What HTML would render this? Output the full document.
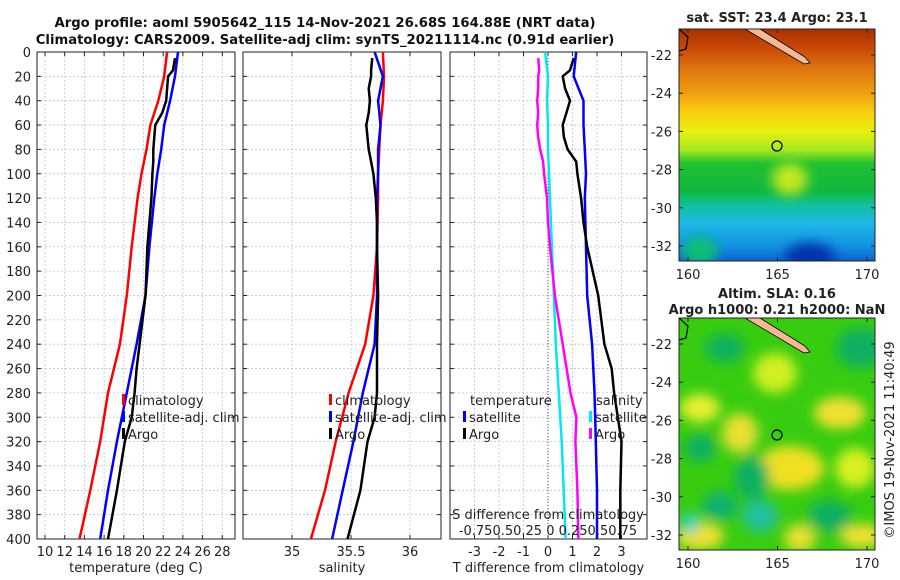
<!DOCTYPE html>
<html><head><meta charset="utf-8"><style>
body{margin:0;background:#fff}
svg{display:block;font-family:"DejaVu Sans","Liberation Sans",sans-serif}
</style></head><body>
<svg id="s" width="900" height="580" xmlns="http://www.w3.org/2000/svg">
<defs>
<linearGradient id="sst" x1="0" y1="0" x2="0" y2="1">
<stop offset="0" stop-color="#a83000"/><stop offset="0.08" stop-color="#c84808"/>
<stop offset="0.18" stop-color="#e07810"/><stop offset="0.28" stop-color="#f0a010"/>
<stop offset="0.36" stop-color="#f8d010"/><stop offset="0.44" stop-color="#e8f010"/>
<stop offset="0.52" stop-color="#a8e820"/><stop offset="0.58" stop-color="#20c030"/>
<stop offset="0.70" stop-color="#10b840"/><stop offset="0.76" stop-color="#10c0a0"/>
<stop offset="0.84" stop-color="#20b8e8"/><stop offset="0.94" stop-color="#1090e0"/>
<stop offset="1" stop-color="#1060d0"/>
</linearGradient>
<filter id="bl"><feGaussianBlur stdDeviation="6"/></filter>
<clipPath id="c2"><rect x="679" y="318" width="196" height="232"/></clipPath>
<clipPath id="c1"><rect x="679" y="29" width="196" height="232"/></clipPath>
</defs>
<g id="g"></g>
</svg>
<script>
// ---- data (depth in m) ----
const depths=[0,20,40,60,80,100,120,160,200,240,280,320,360,400];
const tClim=[22.4,22.1,21.5,20.7,20.3,19.8,19.4,18.8,18.3,17.6,16.4,15.6,14.6,13.5];
const tSat=[23.5,23.2,22.7,22.1,21.8,21.4,21.1,20.6,20.2,19.3,18.3,17.3,16.4,15.6];
const argoDepths=[5,15,20,30,40,50,60,70,80,90,100,120,140,160,200,240,260,280,300,320,360,400];
const tArgo=[23.2,23.0,22.5,22.4,22.3,21.9,21.2,21.1,21.0,21.0,20.9,20.8,20.6,20.4,20.2,19.6,19.3,19.1,18.8,18.1,17.3,16.4];
const sClim=[35.77,35.78,35.77,35.75,35.74,35.73,35.73,35.72,35.69,35.62,35.48,35.37,35.28,35.16];
const sSat=[35.70,35.77,35.73,35.75,35.73,35.73,35.72,35.72,35.72,35.70,35.60,35.52,35.43,35.34];
const sArgo=[35.68,35.67,35.67,35.65,35.66,35.65,35.63,35.64,35.65,35.67,35.69,35.71,35.72,35.72,35.73,35.72,35.72,35.72,35.70,35.64,35.58,35.47];
const dTsat=[1.15,1.05,1.45,1.45,1.5,1.55,1.5,1.55,1.6,1.8,1.9,1.95,2.0,2.0];
const dTargo=[1.05,0.9,0.6,0.7,0.9,0.75,0.6,0.65,0.8,1.15,1.2,1.35,1.45,1.6,2.05,2.3,2.6,2.7,2.85,3.0,2.95,2.95];
const dSsat=[-0.03,0.0,-0.01,0.0,0.0,0.01,0.02,0.04,0.06,0.08,0.11,0.14,0.16,0.18];
const dSargo=[-0.1,-0.09,-0.1,-0.1,-0.11,-0.1,-0.11,-0.1,-0.08,-0.05,-0.04,-0.01,0.0,0.02,0.07,0.15,0.19,0.23,0.29,0.28,0.3,0.31];
const depthTicks=[0,20,40,60,80,100,120,140,160,180,200,220,240,260,280,300,320,340,360,380,400];
const tTicks=[10,12,14,16,18,20,22,24,26,28];
const sTicks=[35,35.5,36];
const dTicks=[-3,-2,-1,0,1,2,3];
const latTicks=[-22,-24,-26,-28,-30,-32];
const lonTicks=[160,165,170];
// ---- helpers ----
const NS="http://www.w3.org/2000/svg",G=document.getElementById('g');
function el(t,a,p){const e=document.createElementNS(NS,t);for(const k in a)e.setAttribute(k,a[k]);(p||G).appendChild(e);return e;}
function txt(x,y,s,a,p){const e=el('text',Object.assign({x:x,y:y,'font-size':13,fill:'#222'},a||{}),p);e.textContent=s;return e;}
const Y0=52,Y1=539;
const yD=d=>Y0+d/400*(Y1-Y0);
const xT=t=>45+(t-10)*9.85;
const xS=s=>292+(s-35)*118;
const xD=d=>548+d*24.5;
const xDS=d=>548+d*98;
function line(xs,ds,fx,col,name){
  const pts=xs.map((v,i)=>fx(v).toFixed(1)+','+yD(ds[i]).toFixed(1)).join(' ');
  const p=el('polyline',{points:pts,fill:'none',stroke:col,'stroke-width':2.5,'stroke-linejoin':'round'});
  
  
}
function panel(x0,x1,xt,fx,labels,title,name){
  const g=el('g',{});
  
  
  depthTicks.forEach(d=>{el('line',{x1:x0,x2:x1,y1:yD(d),y2:yD(d),stroke:'#b8c4e0','stroke-width':0.8,'stroke-dasharray':'2,2'},g);
    el('line',{x1:x0,x2:x0+4,y1:yD(d),y2:yD(d),stroke:'#222'},g);el('line',{x1:x1-4,x2:x1,y1:yD(d),y2:yD(d),stroke:'#222'},g);});
  xt.forEach((t,i)=>{const x=fx(t);el('line',{x1:x,x2:x,y1:Y0,y2:Y1,stroke:'#b8c4e0','stroke-width':0.8,'stroke-dasharray':'2,2'},g);
    el('line',{x1:x,x2:x,y1:Y1-4,y2:Y1,stroke:'#222'},g);el('line',{x1:x,x2:x,y1:Y0,y2:Y0+4,stroke:'#222'},g);
    const l=txt(x,556,labels[i],{'text-anchor':'middle'},g);
    
    });
  el('rect',{x:x0,y:Y0,width:x1-x0,height:Y1-Y0,fill:'none',stroke:'#222','stroke-width':1},g);
  const t=txt((x0+x1)/2,572,title,{'text-anchor':'middle'},g);
  
  
}
let e=txt(325,27,'Argo profile: aoml 5905642_115 14-Nov-2021 26.68S 164.88E (NRT data)',{'text-anchor':'middle','font-weight':'bold','font-size':13.2,fill:'#111'});

e=txt(325,44,'Climatology: CARS2009. Satellite-adj clim: synTS_20211114.nc (0.91d earlier)',{'text-anchor':'middle','font-weight':'bold','font-size':13.2,fill:'#111'});

depthTicks.forEach(d=>{const l=txt(31,yD(d)+5,String(d),{'text-anchor':'end'});
  
  });
panel(37,235,tTicks,xT,tTicks.map(String),'temperature (deg C)','temperature-panel');
panel(243,441,sTicks,xS,sTicks.map(String),'salinity','salinity-panel');
panel(450,647,dTicks,xD,dTicks.map(String),'T difference from climatology','difference-panel');
el('line',{x1:548,x2:548,y1:Y0,y2:Y1,stroke:'#555','stroke-width':1,'stroke-dasharray':'1,2'});
line(tClim,depths,xT,'#f00','temp-climatology-line');
line(tSat,depths,xT,'#00f','temp-satellite-line');
line(tArgo,argoDepths,xT,'#000','temp-argo-line');
line(sClim,depths,xS,'#f00','sal-climatology-line');
line(sSat,depths,xS,'#00f','sal-satellite-line');
line(sArgo,argoDepths,xS,'#000','sal-argo-line');
line(dSsat,depths,xDS,'#00e8f0','sdiff-satellite-line');
line(dSargo,argoDepths,xDS,'#f0f','sdiff-argo-line');
line(dTsat,depths,xD,'#00f','tdiff-satellite-line');
line(dTargo,argoDepths,xD,'#000','tdiff-argo-line');
function leg(x,y,col,s,name){const g=el('g',{});
  el('rect',{x:x,y:y-11,width:3,height:11,fill:col},g);txt(x+6,y,s,{},g);}
leg(122,405,'#f00','climatology','legend-climatology');leg(122,422,'#00f','satellite-adj. clim','legend-satellite');leg(122,439,'#000','Argo','legend-argo');
leg(329,405,'#f00','climatology','legend-climatology-2');leg(329,422,'#00f','satellite-adj. clim','legend-satellite-2');leg(329,439,'#000','Argo','legend-argo-2');
e=txt(470,405,'temperature');
e=txt(596,405,'salinity');
leg(463,422,'#00f','satellite','legend-t-satellite');leg(463,439,'#000','Argo','legend-t-argo');
leg(589,422,'#00e8f0','satellite','legend-s-satellite');leg(589,439,'#f0f','Argo','legend-s-argo');
e=txt(548,519,'S difference from climatology',{'text-anchor':'middle'});
e=txt(548,535,'-0.750.50.25 0  0.250.50.75',{'text-anchor':'middle'});
function map(y0,name,sla){
  const g=el('g',{});
  const cg=el('g',{'clip-path':'url(#'+(sla?'c2':'c1')+')'},g);
  if(!sla){el('rect',{x:679,y:y0,width:196,height:232,fill:'url(#sst)'},cg);
    const fb=el('g',{filter:'url(#bl)'},cg);
    el('ellipse',{cx:810,cy:y0+228,rx:25,ry:14,fill:'#0030a8'},fb);
    el('ellipse',{cx:700,cy:y0+222,rx:18,ry:14,fill:'#10c070'},fb);
    el('ellipse',{cx:790,cy:y0+150,rx:18,ry:16,fill:'#c0e820'},fb);
  }
  else{el('rect',{x:679,y:y0,width:196,height:232,fill:'#38cc10'},cg);
    const fb=el('g',{filter:'url(#bl)'},cg);
    [[700,90,20,14,'#e8f030'],[775,55,22,20,'#d0f020'],[840,95,26,16,'#f0e030'],[740,115,18,20,'#e8e030'],[790,150,34,22,'#f0e020'],[855,150,20,20,'#d8f020'],[700,218,24,14,'#f0e030'],[800,220,16,14,'#e8e030'],[862,218,22,12,'#f0e030'],[725,30,20,14,'#10b060'],[860,30,24,20,'#10b060'],[700,130,16,14,'#10b060'],[752,160,18,22,'#10b060'],[720,188,18,14,'#10b070'],[760,198,18,16,'#20c0a0'],[830,198,22,16,'#10b060'],[690,205,9,11,'#30d0c0']].forEach(b=>{
      el('ellipse',{cx:b[0],cy:y0+b[1],rx:b[2],ry:b[3],fill:b[4]},fb);});}
  el('path',{d:`M760 ${y0} L805 ${y0+28} L810 ${y0+34} L804 ${y0+35} L745 ${y0} Z`,fill:'#f4b894',stroke:'#000','stroke-width':0.8},cg);
  el('path',{d:`M679 ${y0} L688 ${y0+8} L686 ${y0+20} L679 ${y0+22}`,fill:'none',stroke:'#000','stroke-width':1.2},cg);
  el('circle',{cx:777,cy:y0+117,r:5,fill:'none',stroke:'#000','stroke-width':1.2},g);
  el('rect',{x:679,y:y0,width:196,height:232,fill:'none',stroke:'#222'},g);
  latTicks.forEach(l=>{const y=y0+26+(-22-l)*19.1;el('line',{x1:875,x2:871,y1:y,y2:y,stroke:'#222'},g);el('line',{x1:679,x2:683,y1:y,y2:y,stroke:'#222'},g);
    txt(672,y+5,String(l),{'text-anchor':'end'},g);});
  lonTicks.forEach(l=>{const x=688+(l-160)*17.9;el('line',{x1:x,x2:x,y1:y0+232,y2:y0+228,stroke:'#222'},g);el('line',{x1:x,x2:x,y1:y0,y2:y0+4,stroke:'#222'},g);
    txt(x,y0+250,String(l),{'text-anchor':'middle'},g);});
}
map(29,'sst-map',false);
map(318,'sla-map',true);
e=txt(777,22,'sat. SST: 23.4 Argo: 23.1',{'text-anchor':'middle','font-weight':'bold'});
e=txt(777,298,'Altim. SLA: 0.16',{'text-anchor':'middle','font-weight':'bold'});
e=txt(777,314,'Argo h1000: 0.21 h2000: NaN',{'text-anchor':'middle','font-weight':'bold'});
e=txt(0,0,'©IMOS 19-Nov-2021 11:40:49',{'text-anchor':'middle',transform:'translate(894,440) rotate(-90)'});
</script>
</body></html>
